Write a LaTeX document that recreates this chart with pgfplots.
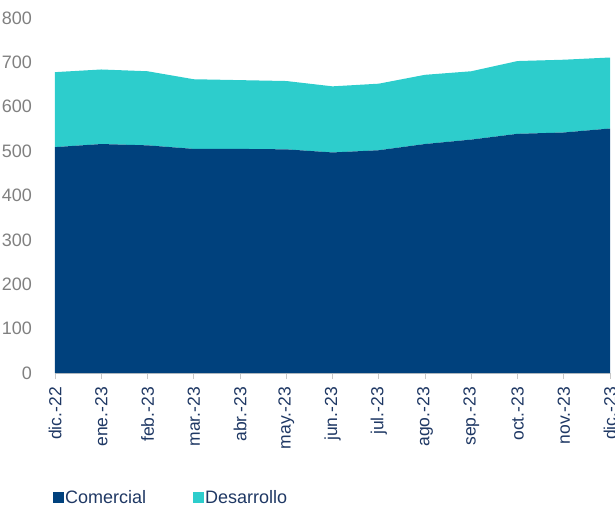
\documentclass[border=0pt]{standalone}
\usepackage{fontspec}
\setmainfont{Liberation Sans}
\usepackage{pgfplots}
\pgfplotsset{compat=1.18}
\definecolor{comercial}{RGB}{0,65,125}
\definecolor{desarrollo}{RGB}{45,205,204}
\definecolor{navytext}{RGB}{31,56,100}
\definecolor{ticktext}{RGB}{128,128,128}
\definecolor{axisgray}{RGB}{200,200,200}

\begin{document}
\begin{tikzpicture}
\begin{axis}[
  at={(0,0)}, anchor=south west,
  scale only axis, width=555pt, height=355pt,
  xmin=0, xmax=12, ymin=0, ymax=800,
  enlargelimits=false,
  stack plots=y,
  xtick={0,...,12},
  xticklabels={dic.-22,ene.-23,feb.-23,mar.-23,abr.-23,may.-23,jun.-23,jul.-23,ago.-23,sep.-23,oct.-23,nov.-23,dic.-23},
  ytick={0,100,...,800},
  axis lines*=left,
  y axis line style={draw=none},
  x axis line style={axisgray, line width=0.8pt},
  ytick style={draw=none},
  xtick style={axisgray, line width=0.8pt},
  tick align=outside,
  major tick length=6pt,
  /pgf/number format/assume math mode=true,
  yticklabel style={font=\fontsize{18}{20}\selectfont, text=ticktext, inner sep=0pt},
  yticklabel shift=17pt,
  xticklabel style={font=\fontsize{17.5}{20}\selectfont, text=navytext, rotate=90, anchor=east, inner sep=0pt},
  xticklabel shift=8pt,
  legend columns=2,
  legend style={draw=none, fill=none, at={(-0.009,-0.352)}, anchor=west,
    font=\fontsize{18}{20}\selectfont, text=navytext,
    nodes={inner sep=1pt},
    /tikz/every even column/.append style={column sep=46pt}},
  legend image code/.code={\fill[#1] (0pt,-5.5pt) rectangle (11pt,5.5pt);},
]
\addplot[fill=comercial, draw=none] coordinates {
  (0,509) (1,516) (2,513) (3,505) (4,505) (5,504) (6,497)
  (7,502) (8,516) (9,526) (10,539) (11,542) (12,551)
} \closedcycle;
\addlegendentry{Comercial}
\addplot[fill=desarrollo, draw=none] coordinates {
  (0,169) (1,168) (2,167) (3,157) (4,155) (5,154) (6,149)
  (7,150) (8,156) (9,154) (10,164) (11,164) (12,160)
} \closedcycle;
\addlegendentry{Desarrollo}
\end{axis}
\pgfresetboundingbox
\path[use as bounding box] (-55pt,-139pt) rectangle (560pt,373pt);
\end{tikzpicture}
\end{document}
